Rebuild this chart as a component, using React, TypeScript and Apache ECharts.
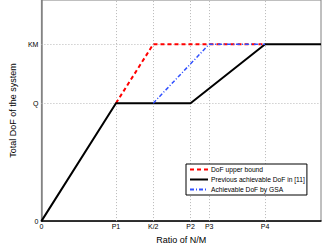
import React, { useEffect, useRef } from "react";
import * as echarts from "echarts";

const xTickValues = [0, 4, 6, 8, 9, 12];
const xTickLabels = ["0", "P1", "K/2", "P2", "P3", "P4"];
const yTickValues = [0, 8, 12];
const yTickLabels = ["0", "Q", "KM"];

const upperX = [4, 6, 12];
const upperY = [8, 12, 12];
const prevX = [0, 4, 8, 12, 15];
const prevY = [0, 8, 8, 12, 12];
const gsaX = [6, 9, 12];
const gsaY = [8, 12, 12];

const seriesNames = [
  "DoF upper bound",
  "Previous achievable DoF in [11]",
  "Achievable DoF by GSA",
];

const FONT = "'Liberation Sans', Arial, sans-serif";

function zip(xs: number[], ys: number[]) {
  return xs.map((x, i) => [x, ys[i]]);
}

export default function App() {
  const ref = useRef<HTMLDivElement>(null);
  useEffect(() => {
    if (!ref.current) return;
    const chart = echarts.init(ref.current, undefined, { renderer: "svg" });
    const gridLines = [
      ...xTickValues.filter((v) => v !== 0).map((v) => ({ xAxis: v })),
      ...yTickValues.filter((v) => v !== 0).map((v) => ({ yAxis: v })),
    ];
    chart.setOption({
      animation: false,
      backgroundColor: "#ffffff",
      grid: {
        left: 28,
        right: 1,
        top: 0,
        bottom: 22,
        show: true,
        borderColor: "#808080",
        borderWidth: 1,
      },
      legend: {
        orient: "vertical",
        left: 186,
        top: 164,
        backgroundColor: "#ffffff",
        borderColor: "#000000",
        borderWidth: 1,
        borderRadius: 0,
        padding: [2, 2, 2, 3],
        itemWidth: 18,
        itemHeight: 7,
        itemGap: 3,
        itemStyle: { opacity: 0 },
        textStyle: { fontSize: 6.7, fontFamily: FONT, color: "#000", padding: [0, 0, 0, -2] },
        data: seriesNames,
      },
      xAxis: {
        type: "value",
        min: 0,
        max: 15,
        interval: 1,
        name: "Ratio of N/M",
        nameLocation: "middle",
        nameGap: 10,
        nameTextStyle: { fontSize: 9, fontFamily: FONT, color: "#000" },
        axisLine: { show: true, lineStyle: { color: "#000", width: 1.5 } },
        axisTick: { show: false },
        splitLine: { show: false },
        axisLabel: {
          fontSize: 7,
          fontFamily: FONT,
          color: "#000",
          margin: 2,
          showMinLabel: true,
          showMaxLabel: true,
          hideOverlap: false,
          formatter: (v: number) => {
            const i = xTickValues.indexOf(v);
            return i >= 0 ? xTickLabels[i] : "";
          },
        },
      },
      yAxis: {
        type: "value",
        min: 0,
        max: 15,
        interval: 1,
        name: "Total DoF of the system",
        nameLocation: "middle",
        nameGap: 16,
        nameTextStyle: { fontSize: 9, fontFamily: FONT, color: "#000" },
        axisLine: { show: true, lineStyle: { color: "#808080", width: 1.5 } },
        axisTick: { show: false },
        splitLine: { show: false },
        axisLabel: {
          fontSize: 7,
          fontFamily: FONT,
          color: "#000",
          margin: 3,
          showMinLabel: true,
          hideOverlap: false,
          formatter: (v: number) => {
            const i = yTickValues.indexOf(v);
            return i >= 0 ? yTickLabels[i] : "";
          },
        },
      },
      series: [
        {
          name: seriesNames[0],
          type: "line",
          symbol: "none",
          data: zip(upperX, upperY),
          lineStyle: { color: "#ff0000", width: 2, type: [4, 3] },
          itemStyle: { color: "#ff0000" },
          z: 3,
          markLine: {
            silent: true,
            symbol: "none",
            label: { show: false },
            lineStyle: { color: "#b8b8b8", width: 1, type: [1, 2] },
            data: gridLines,
            z: 1,
          },
        },
        {
          name: seriesNames[1],
          type: "line",
          symbol: "none",
          data: zip(prevX, prevY),
          lineStyle: { color: "#000000", width: 2 },
          itemStyle: { color: "#000000" },
          z: 4,
        },
        {
          name: seriesNames[2],
          type: "line",
          symbol: "none",
          data: zip(gsaX, gsaY),
          lineStyle: { color: "#3050ff", width: 1.5, type: [4, 2, 1, 2] },
          itemStyle: { color: "#3050ff" },
          z: 5,
        },
      ],
    });
    return () => chart.dispose();
  }, []);
  return (
    <div
      ref={ref}
      style={{ position: "fixed", left: 0, top: 0, width: 324, height: 249 }}
    />
  );
}
